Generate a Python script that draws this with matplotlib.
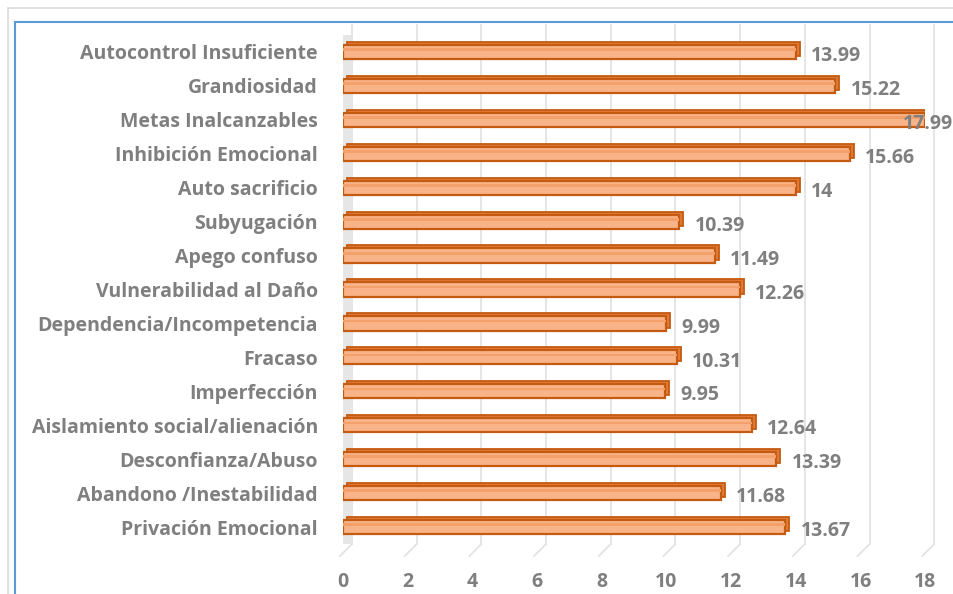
import matplotlib
matplotlib.use("Agg")
import matplotlib.pyplot as plt
import matplotlib.transforms as mtransforms
from matplotlib.patches import Rectangle, Polygon

categories = [
    "Privación Emocional",
    "Abandono /Inestabilidad",
    "Desconfianza/Abuso",
    "Aislamiento social/alienación",
    "Imperfección",
    "Fracaso",
    "Dependencia/Incompetencia",
    "Vulnerabilidad al Daño",
    "Apego confuso",
    "Subyugación",
    "Auto sacrificio",
    "Inhibición Emocional",
    "Metas Inalcanzables",
    "Grandiosidad",
    "Autocontrol Insuficiente",
]
values = [13.67, 11.68, 13.39, 12.64, 9.95, 10.31, 9.99, 12.26, 11.49, 10.39,
          14, 15.66, 17.99, 15.22, 13.99]
value_labels = ["13.67", "11.68", "13.39", "12.64", "9.95", "10.31", "9.99", "12.26",
                "11.49", "10.39", "14", "15.66", "17.99", "15.22", "13.99"]
xticks = [0, 2, 4, 6, 8, 10, 12, 14, 16, 18]

plt.rcParams['font.family'] = ['Open Sans', 'DejaVu Sans']
GRAY = '#7F7F7F'
FS = 14

fig = plt.figure(figsize=(9.54, 5.94), dpi=100)
W, H = 954, 594
# outer frames
fig.patches.append(Rectangle((8 / W, -0.1), 1.2, 1 - 8 / H + 0.1, transform=fig.transFigure,
                             fill=False, edgecolor='#D9D9D9', lw=1.2, zorder=0))
fig.patches.append(Rectangle((15 / W, -0.1), 1.2, 1 - 22 / H + 0.1, transform=fig.transFigure,
                             fill=False, edgecolor='#5B9BD5', lw=1.5, zorder=0))

left = 343 / W
right = (343 + 18 * 32.35) / W
bottom = 1 - 544 / H
top = 1 - 35 / H
ax = fig.add_axes([left, bottom, right - left, top - bottom])
ax.set_xlim(0, 18)
ax.set_ylim(-0.5, len(categories) - 0.5)
for s in ax.spines.values():
    s.set_visible(False)

# back-wall gridlines (offset for 3D depth)
grid_tr = mtransforms.offset_copy(ax.get_xaxis_transform(), fig=fig, x=9, y=0, units='dots')
for t in xticks:
    ax.plot([t, t], [0.0, 1.02], transform=grid_tr, color='#E3E3E3', lw=1.3,
            zorder=0, clip_on=False)
for t in xticks:
    x0 = ax.transData.transform((t, 0))[0]
    y0 = ax.transAxes.transform((0, 0))[1]
    ax.plot([x0 + 9, x0 - 3], [y0, y0 - 12], transform=None, color='#E3E3E3',
            lw=1.3, zorder=0, clip_on=False)

# left side wall
x0 = ax.transData.transform((0, 0))[0]
y_top = ax.transAxes.transform((0, 1.02))[1]
y_bot = ax.transAxes.transform((0, 0))[1]
wall = Polygon([[x0, y_top - 5], [x0 + 9, y_top], [x0 + 9, y_bot], [x0, y_bot - 12]],
               closed=True, transform=None, facecolor='#E6E6E6', edgecolor='none', zorder=0.5)
ax.add_artist(wall)

ypos = list(range(len(categories)))
bh = 0.42
# depth (3D) part
depth_tr = mtransforms.offset_copy(ax.transData, fig=fig, x=4, y=3, units='dots')
ax.barh(ypos, values, height=bh, color='#E07A35', edgecolor='#C55A11', lw=1.3,
        transform=depth_tr, zorder=2)
# front face
ax.barh(ypos, values, height=bh, color='#F8B488', edgecolor='#C55A11', lw=1.6, zorder=3)
# inner highlight strip
ax.barh([y + 0.07 for y in ypos], values, height=0.08, color='#F4A06A', edgecolor='none',
        zorder=4)

for y, v, lab in zip(ypos, values, value_labels):
    if v > 17:
        ax.annotate(lab, xy=(1.0, y), xycoords=('figure fraction', 'data'),
                    xytext=(-1, -3), textcoords='offset points',
                    ha='right', va='center', fontsize=FS, fontweight='bold', color=GRAY,
                    zorder=6, annotation_clip=False)
    else:
        ax.annotate(lab, xy=(v, y), xytext=(11, -3), textcoords='offset points',
                    ha='left', va='center', fontsize=FS, fontweight='bold', color=GRAY,
                    zorder=6, annotation_clip=False)

ax.set_yticks(ypos)
ax.set_yticklabels(categories, fontsize=FS, fontweight='bold', color=GRAY)
ax.set_xticks(xticks)
ax.set_xticklabels([str(t) for t in xticks], fontsize=FS, fontweight='bold', color=GRAY)
ax.tick_params(axis='both', length=0)
ax.tick_params(axis='y', pad=18)
ax.tick_params(axis='x', pad=20)

fig.savefig('out.png', dpi=100)
